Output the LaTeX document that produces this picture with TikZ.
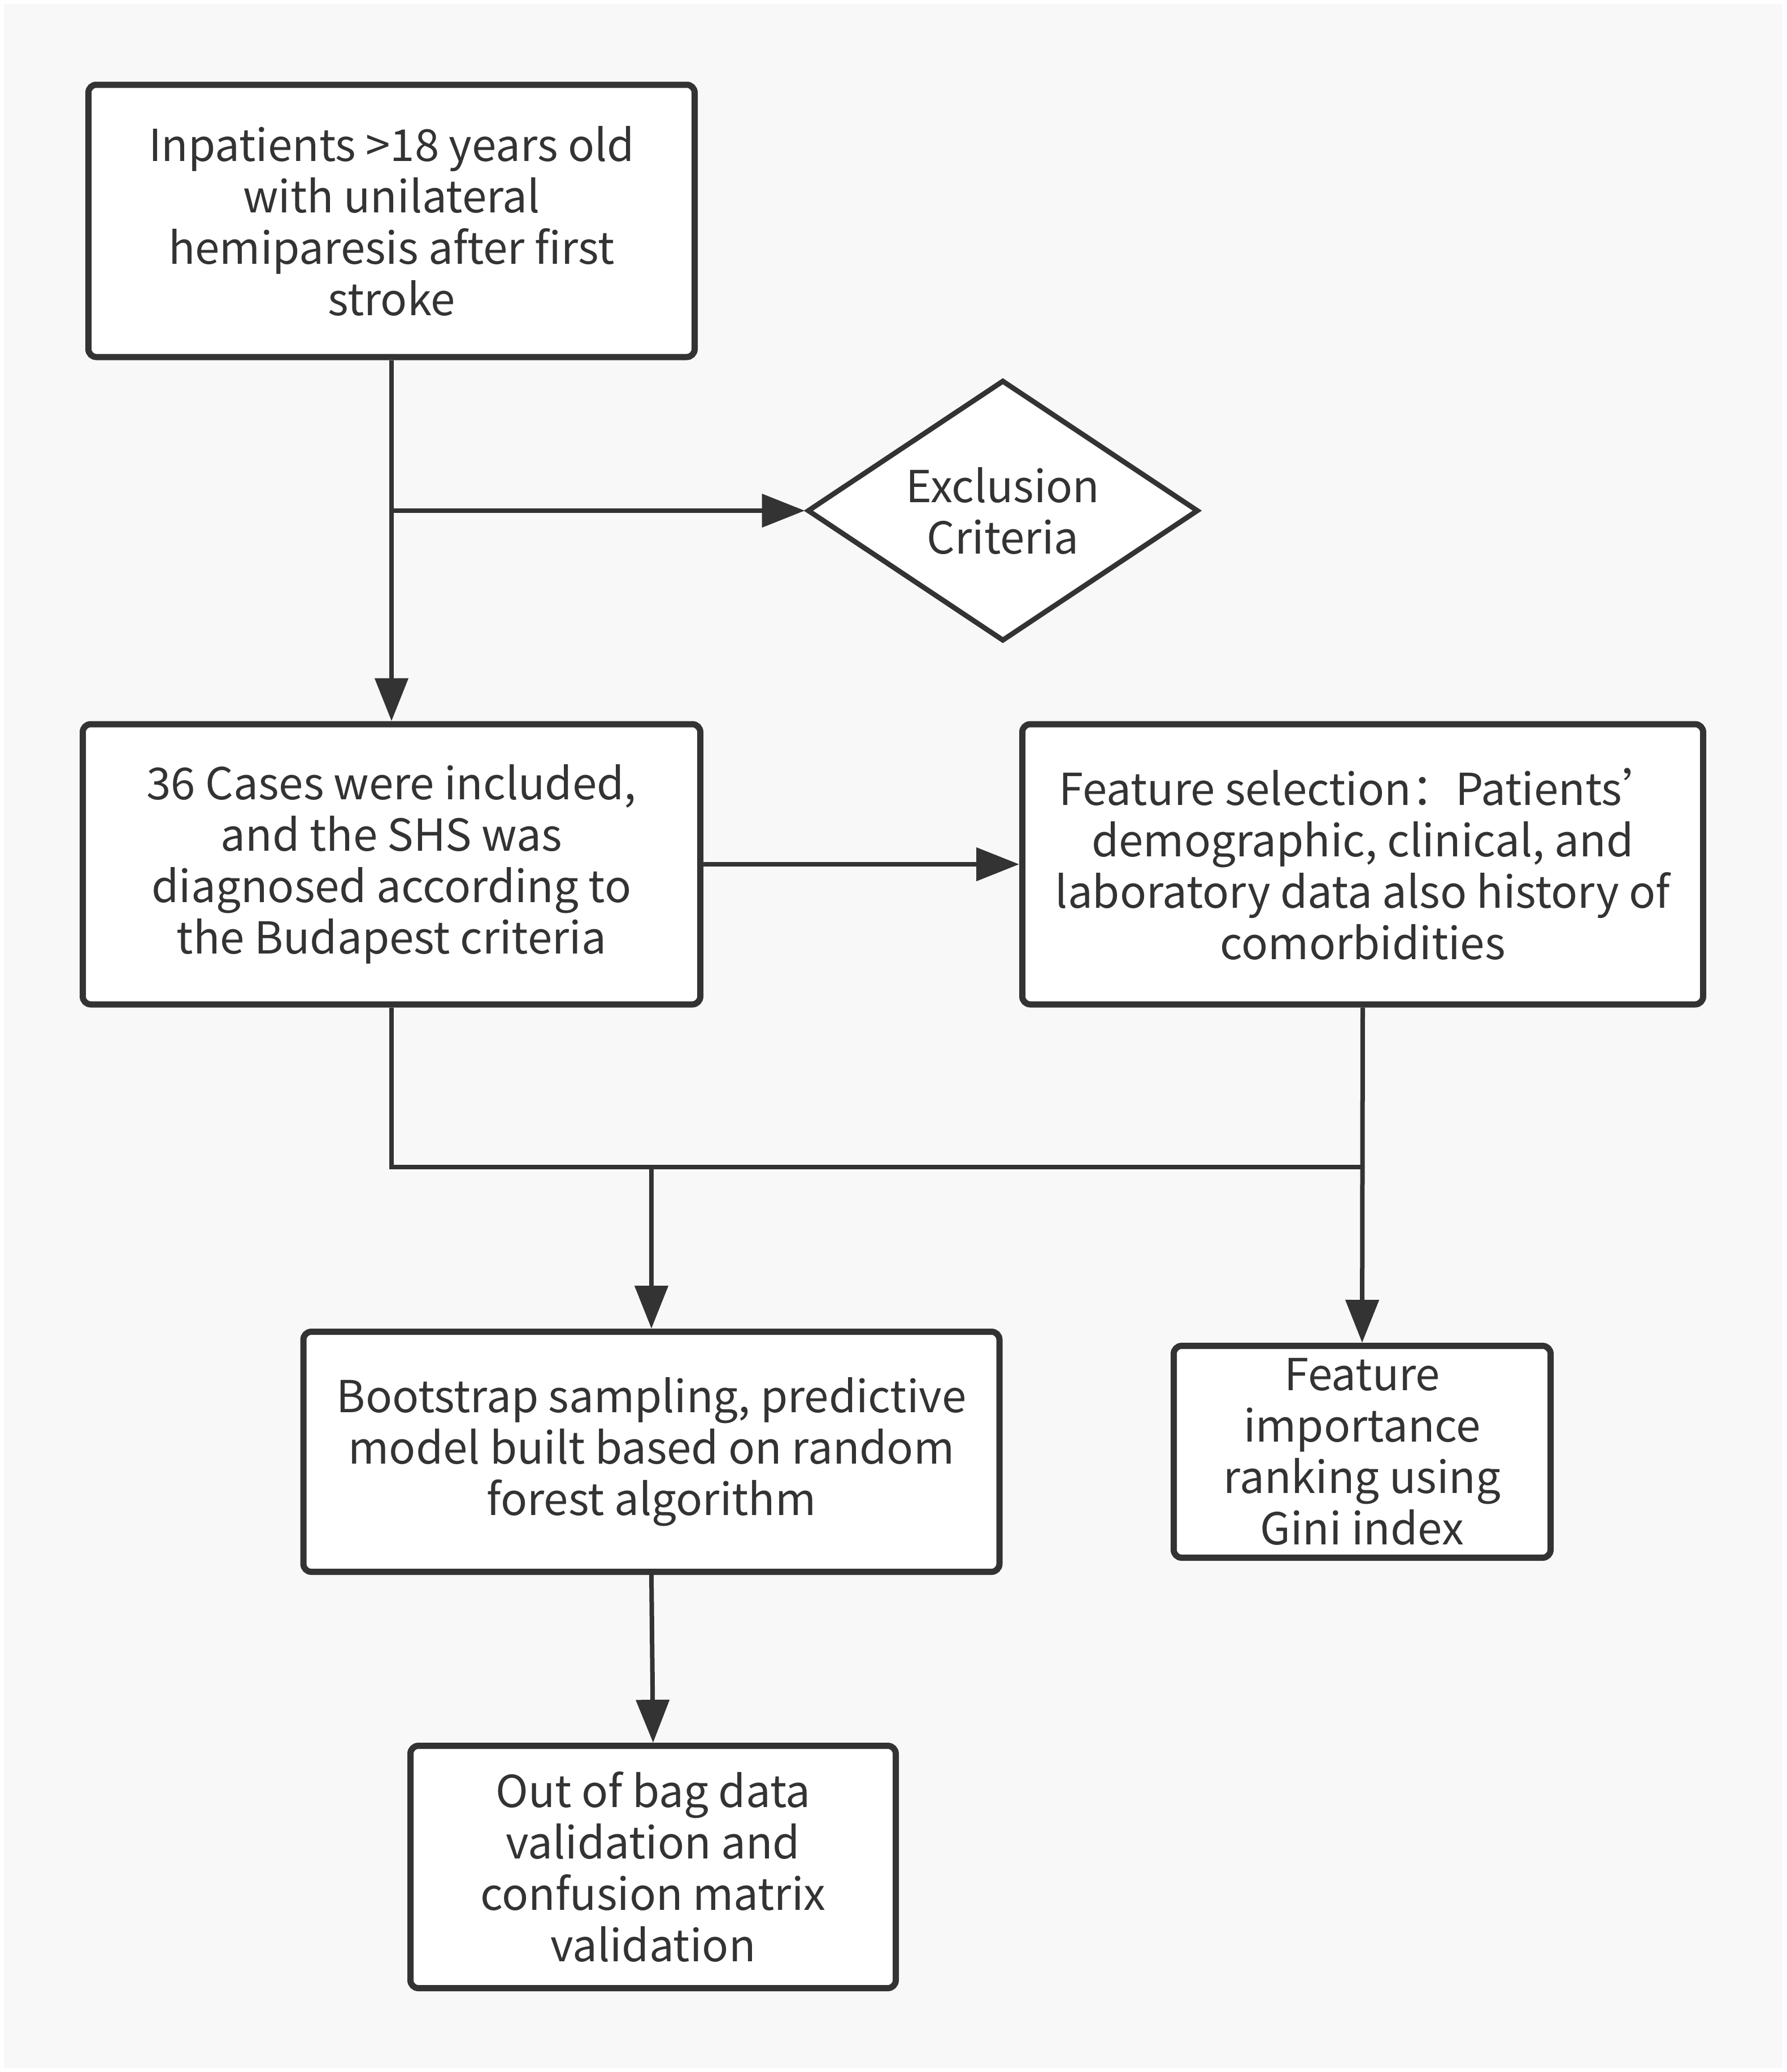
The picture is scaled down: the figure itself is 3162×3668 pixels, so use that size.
\documentclass[tikz,border=0pt]{standalone}
\usepackage{fontspec}
\setmainfont{Noto Sans CJK SC}
\usetikzlibrary{arrows.meta,shapes.geometric}
\definecolor{bgc}{HTML}{F8F8F8}
\definecolor{ink}{HTML}{333333}
\begin{document}
\begin{tikzpicture}[x=1pt,y=-1pt,
  every node/.style={font=\fontsize{78}{91}\selectfont, text=ink, align=center},
  box/.style={draw=ink, fill=white, line width=11pt, rounded corners=14pt, inner sep=0pt},
  dia/.style={draw=ink, fill=white, line width=9pt, diamond, aspect=1.5, inner sep=0pt},
  conn/.style={draw=ink, line width=8pt},
  arr/.style={conn, -{Triangle[length=76pt,width=58pt]}}]
\path[use as bounding box, fill=white] (0,0) rectangle (3162,3668);
\fill[bgc] (7,7) rectangle (3155,3661);

\node[box, minimum width=1073pt, minimum height=482pt] (b1) at (693,391)
  {Inpatients >18 years old\\with unilateral\\hemiparesis after first\\stroke};
\node[dia, minimum width=692pt, minimum height=462pt] (ex) at (1775,904)
  {Exclusion\\Criteria};
\node[box, minimum width=1093pt, minimum height=496pt] (b2) at (693,1530)
  {36 Cases were included,\\and the SHS was\\diagnosed according to\\the Budapest criteria};
\node[box, minimum width=1205pt, minimum height=496pt] (b3) at (2412,1530)
  {Feature selection：Patients’\\demographic, clinical, and\\laboratory data also history of\\comorbidities};
\node[box, minimum width=1232pt, minimum height=425pt] (b4) at (1153,2570)
  {Bootstrap sampling, predictive\\model built based on random\\forest algorithm};
\node[box, minimum width=667pt, minimum height=375pt] (b5) at (2411,2570)
  {Feature\\importance\\ranking using\\Gini index};
\node[box, minimum width=859pt, minimum height=429pt] (b6) at (1156,3305)
  {Out of bag data\\validation and\\confusion matrix\\validation};

\coordinate (j1) at (693,904);
\coordinate (jR) at (2411,2066);
\coordinate (jM) at (1153,2066);

\draw[arr] (b1.south) -- (b2.north);
\draw[arr] (j1) -- (ex.west);
\draw[arr] (b2.east) -- (b3.west);
\draw[conn] (b2.south) |- (jR);
\draw[arr] (b3.south) -- (b5.north);
\draw[arr] (jM) -- (b4.north);
\draw[arr] (b4.south) -- (b6.north);
\end{tikzpicture}
\end{document}
